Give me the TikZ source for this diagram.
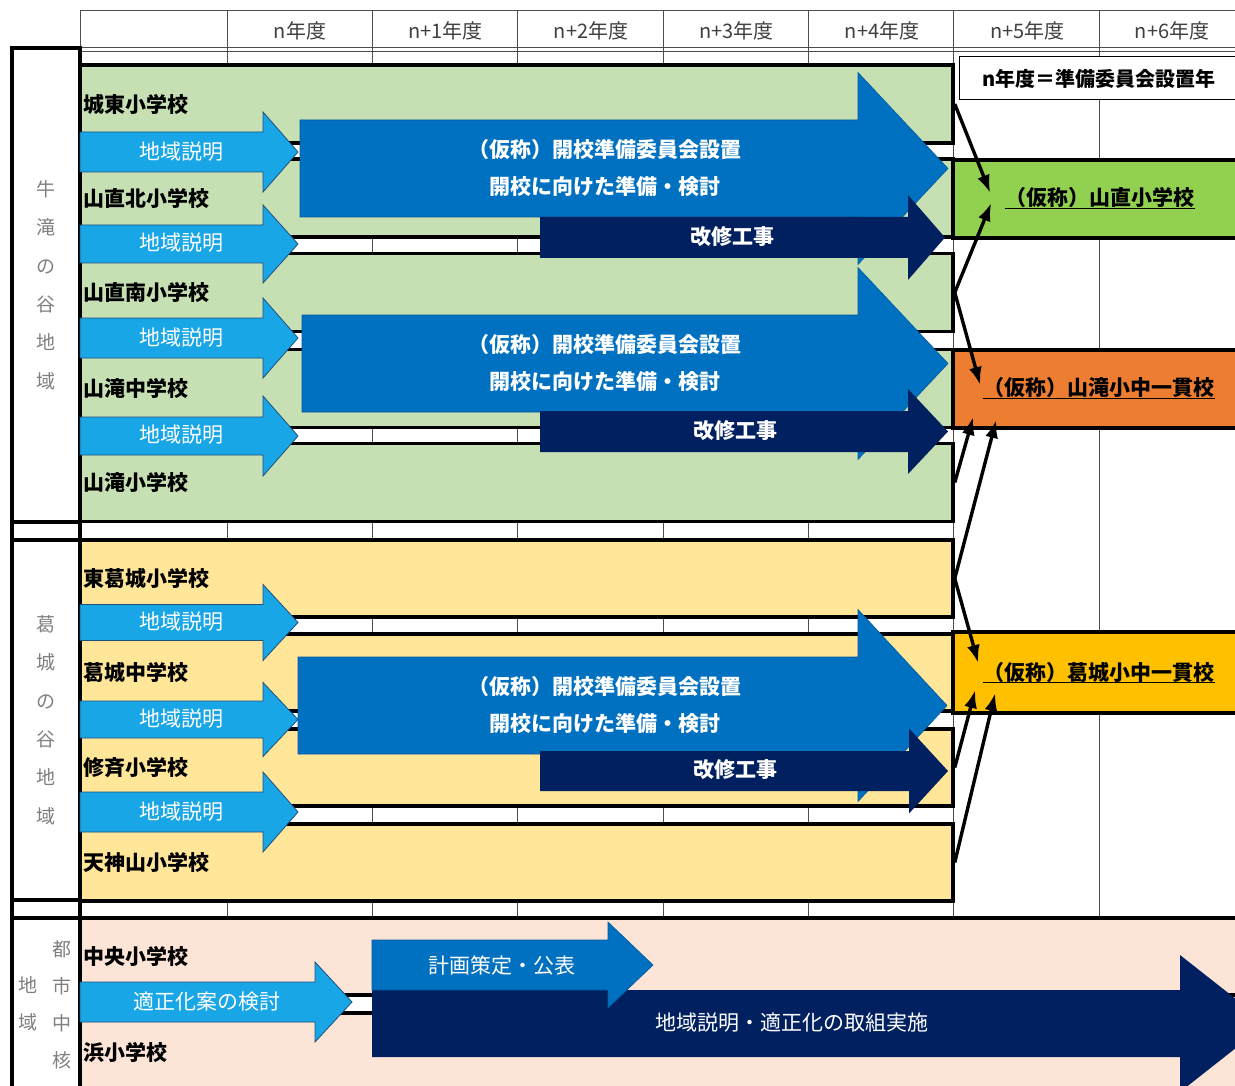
\documentclass[tikz,border=0pt]{standalone}
\usepackage{fontspec}
\setmainfont{Noto Sans CJK JP}
\usetikzlibrary{arrows.meta, positioning, calc}

\definecolor{rowgreen}{HTML}{C6E0B4}
\definecolor{rowyellow}{HTML}{FFE699}
\definecolor{rowpink}{HTML}{FCE4D6}
\definecolor{arrowcyan}{HTML}{19A6E6}
\definecolor{arrowcyanline}{HTML}{1F4E79}
\definecolor{arrowblue}{HTML}{0070C0}
\definecolor{arrowblueline}{HTML}{005A9E}
\definecolor{arrowdark}{HTML}{002060}
\definecolor{newgreen}{HTML}{92D050}
\definecolor{neworange}{HTML}{ED7D31}
\definecolor{newgold}{HTML}{FFC000}
\definecolor{labelgray}{HTML}{7F7F7F}

% block arrow: style, tail x, head base x, tip x, centre y, half shaft, half head
\newcommand{\blockarrow}[7]{%
  \path[#1] (#2,#5-#6) -- (#3,#5-#6) -- (#3,#5-#7) -- (#4,#5)
    -- (#3,#5+#7) -- (#3,#5+#6) -- (#2,#5+#6) -- cycle;}

\tikzset{
  gridline/.style={line width=0.8pt, black!70},
  frameline/.style={line width=3.5pt},
  regionbox/.style={
    draw, line width=3.5pt, fill=white, minimum width=68pt, inner sep=0pt,
    align=center, text=labelgray, font=\fontsize{19}{38.4}\selectfont
  },
  regionlabel/.style={
    inner sep=0pt, align=center, text=labelgray, font=\fontsize{19}{37}\selectfont
  },
  rowbox/.style={
    draw, line width=3.5pt, minimum width=873pt, minimum height=78pt, inner sep=0pt
  },
  school/.style={inner sep=1pt, font=\fontsize{21}{25}\selectfont\bfseries},
  yearlabel/.style={inner sep=1pt, text=black!75, font=\fontsize{20}{24}\selectfont},
  explain/.style={fill=arrowcyan, draw=arrowcyanline, line width=0.8pt},
  plan/.style={fill=arrowblue, draw=arrowblueline, line width=0.6pt},
  works/.style={fill=arrowdark},
  arrowtext/.style={
    inner sep=1pt, text=white, align=center, font=\fontsize{21}{37}\selectfont
  },
  boldtext/.style={arrowtext, font=\fontsize{21}{37}\selectfont\bfseries},
  resultbox/.style={
    draw, line width=3.5pt, minimum width=300pt, minimum height=78pt, inner sep=0pt
  },
  resulttext/.style={inner sep=0pt, font=\fontsize{21}{25}\selectfont\bfseries},
  uline/.style={line width=1.3pt},
  notebox/.style={
    draw, line width=1pt, fill=white, minimum width=280pt, minimum height=43pt,
    inner sep=1pt, font=\fontsize{20}{24}\selectfont\bfseries
  },
  conn/.style={-{Latex[length=18pt,width=13pt]}, line width=3.4pt}
}

\begin{document}
\begin{tikzpicture}[x=1pt, y=-1pt]
  \clip (0,0) rectangle (1235,1086);
  \fill[white] (0,0) rectangle (1235,1086);

  % grid and year header
  \draw[gridline] (80,10) -- (1240,10);
  \draw[gridline] (80,47) -- (1240,47);
  \draw[gridline] (80,51) -- (1240,51);
  \foreach \x in {80,227,372,517,663,808,953,1099}
    \draw[gridline] (\x,10) -- (\x,1086);
  \draw[frameline] (12,48) -- (12,1090);
  \draw[frameline] (80,48) -- (80,1090);

  \node[yearlabel] (year0) at (300,31) {n年度};
  \node[yearlabel] (year1) at (445.5,31) {n+1年度};
  \node[yearlabel] (year2) at (591,31) {n+2年度};
  \node[yearlabel] (year3) at (736.5,31) {n+3年度};
  \node[yearlabel] (year4) at (882,31) {n+4年度};
  \node[yearlabel] (year5) at (1027.5,31) {n+5年度};
  \node[yearlabel] (year6) at (1172,31) {n+6年度};

  % region labels
  \node[regionbox, minimum height=474pt] (ushitaki) at (46,285) {牛\\滝\\の\\谷\\地\\域};
  \node[regionbox, minimum height=360pt] (katsuragiarea) at (46,720) {葛\\城\\の\\谷\\地\\域};
  \node[regionbox, minimum height=174pt] (toshiarea) at (46,1005) {};
  \node[regionlabel] (toshi) at (62,1005) {都\\市\\中\\核};
  \node[regionlabel] (chiiki) at (28,1004) {地\\域};

  % school rows
  \node[rowbox, fill=rowgreen] (jotou) at (516.5,104) {};
  \node[rowbox, fill=rowgreen] (yamakita) at (516.5,198) {};
  \node[rowbox, fill=rowgreen] (yamaminami) at (516.5,292.5) {};
  \node[rowbox, fill=rowgreen] (takichu) at (516.5,388.5) {};
  \node[rowbox, fill=rowgreen] (takisho) at (516.5,482.5) {};

  \node[rowbox, fill=rowyellow, minimum height=77pt] (higashi) at (516.5,578.5) {};
  \node[rowbox, fill=rowyellow, minimum height=77pt] (katsuchu) at (516.5,672.5) {};
  \node[rowbox, fill=rowyellow, minimum height=77pt] (shusai) at (516.5,767.5) {};
  \node[rowbox, fill=rowyellow, minimum height=77pt] (tenjin) at (516.5,862.5) {};

  \node[rowbox, fill=rowpink, minimum width=1165pt, minimum height=77pt] (chuo) at (662.5,956.5) {};
  \node[rowbox, fill=rowpink, minimum width=1165pt, minimum height=79pt] (hama) at (662.5,1052.5) {};

  \node[school, right=4pt of jotou.west] (jotoulbl) {城東小学校};
  \node[school, right=4pt of yamakita.west] (yamakitalbl) {山直北小学校};
  \node[school, right=4pt of yamaminami.west] (yamaminamilbl) {山直南小学校};
  \node[school, right=4pt of takichu.west] (takichulbl) {山滝中学校};
  \node[school, right=4pt of takisho.west] (takisholbl) {山滝小学校};
  \node[school, right=4pt of higashi.west] (higashilbl) {東葛城小学校};
  \node[school, right=4pt of katsuchu.west] (katsuchulbl) {葛城中学校};
  \node[school, right=4pt of shusai.west] (shusailbl) {修斉小学校};
  \node[school, right=4pt of tenjin.west] (tenjinlbl) {天神山小学校};
  \node[school, right=4pt of chuo.west] (chuolbl) {中央小学校};
  \node[school, right=4pt of hama.west] (hamalbl) {浜小学校};

  % new schools and note
  \node[resultbox, fill=newgreen] (yamadai) at (1103,199) {};
  \node[resultbox, fill=neworange] (yamataki) at (1103,389) {};
  \node[resultbox, fill=newgold, minimum height=81pt] (katsuragi) at (1103,672.5) {};
  \node[resulttext] (yamadailbl) at (1100,198) {（仮称）山直小学校};
  \node[resulttext] (yamatakilbl) at (1099,388) {（仮称）山滝小中一貫校};
  \node[resulttext] (katsuragilbl) at (1099,672) {（仮称）葛城小中一貫校};
  \draw[uline] (yamadailbl.south west) -- (yamadailbl.south east);
  \draw[uline] (yamatakilbl.south west) -- (yamatakilbl.south east);
  \draw[uline] (katsuragilbl.south west) -- (katsuragilbl.south east);

  \node[notebox] (note) at (1099,78.5) {n年度＝準備委員会設置年};

  % schedule arrows, section 1
  \blockarrow{explain}{80}{263}{298}{152}{20}{40}
  \blockarrow{explain}{80}{263}{298}{244}{19}{39}
  \blockarrow{explain}{80}{263}{298}{338}{20}{40}
  \blockarrow{explain}{80}{263}{298}{436}{19}{40}
  \blockarrow{plan}{300}{858}{948}{168.5}{48.5}{96}
  \blockarrow{works}{540}{908}{945}{237.5}{20.5}{42.5}
  \blockarrow{plan}{302}{858}{948}{363.5}{48.5}{96}
  \blockarrow{works}{540}{908}{948}{431.5}{20.5}{42.5}
  % section 2
  \blockarrow{explain}{80}{263}{298}{622.5}{18}{38}
  \blockarrow{explain}{80}{263}{298}{719.5}{18.5}{37}
  \blockarrow{explain}{80}{263}{298}{812}{20}{40}
  \blockarrow{plan}{298}{858}{947}{705.5}{48.5}{96}
  \blockarrow{works}{540}{909}{948}{771}{20}{42.5}
  % section 3
  \blockarrow{explain}{80}{315}{352}{1002}{20}{40}
  \blockarrow{works}{372}{1180}{1267}{1023.5}{33.5}{68.5}
  \blockarrow{plan}{372}{608}{653}{965}{25}{43}

  \node[arrowtext] (setsumei1) at (181,152) {地域説明};
  \node[arrowtext] (setsumei2) at (181,243) {地域説明};
  \node[arrowtext] (setsumei3) at (181,338) {地域説明};
  \node[arrowtext] (setsumei4) at (181,435) {地域説明};
  \node[arrowtext] (setsumei5) at (181,622) {地域説明};
  \node[arrowtext] (setsumei6) at (181,719) {地域説明};
  \node[arrowtext] (setsumei7) at (181,812) {地域説明};
  \node[arrowtext] (kentou) at (207,1002) {適正化案の検討};

  \node[boldtext] (iinkai1) at (605,168.5) {（仮称）開校準備委員会設置\\開校に向けた準備・検討};
  \node[boldtext] (iinkai2) at (605,362.5) {（仮称）開校準備委員会設置\\開校に向けた準備・検討};
  \node[boldtext] (iinkai3) at (605,704.5) {（仮称）開校準備委員会設置\\開校に向けた準備・検討};
  \node[boldtext] (kaishu1) at (732,237) {改修工事};
  \node[boldtext] (kaishu2) at (735,431) {改修工事};
  \node[boldtext] (kaishu3) at (735,770) {改修工事};
  \node[arrowtext] (keikaku) at (502,966) {計画策定・公表};
  \node[arrowtext] (torikumi) at (792,1023) {地域説明・適正化の取組実施};

  % merging into new schools
  \draw[conn] (jotou.east) -- ($(yamadai.west)+(39,-6)$);
  \draw[conn] (yamaminami.east) -- ($(yamadai.west)+(40,4)$);
  \draw[conn] (yamaminami.east) -- ($(yamataki.west)+(29,-4)$);
  \draw[conn] (takisho.east) -- ($(yamataki.west)+(22,28)$);
  \draw[conn] (higashi.east) -- ($(yamataki.west)+(45,31)$);
  \draw[conn] (higashi.east) -- ($(katsuragi.west)+(27,-9.5)$);
  \draw[conn] (shusai.east) -- ($(katsuragi.west)+(24,17.5)$);
  \draw[conn] (tenjin.east) -- ($(katsuragi.west)+(44,20.5)$);
\end{tikzpicture}
\end{document}
